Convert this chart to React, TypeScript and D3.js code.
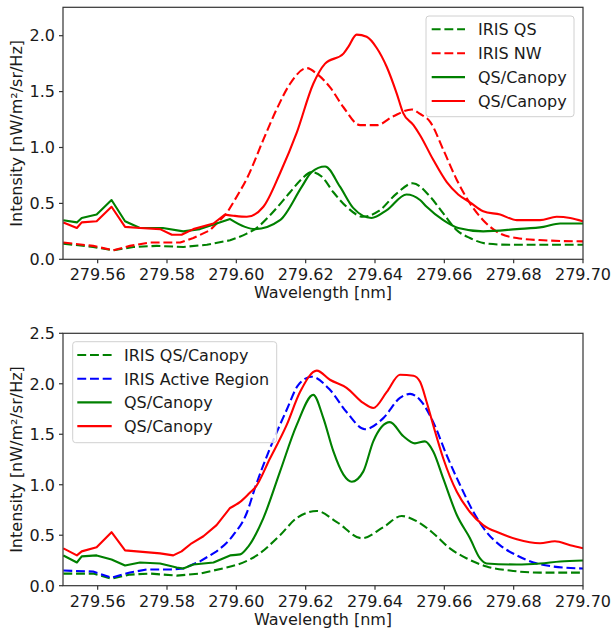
import React from 'react';
import * as d3 from 'd3';

const W = 611;
const H = 633;

const xTicks = [279.56, 279.58, 279.6, 279.62, 279.64, 279.66, 279.68, 279.7];
const topYTicks = [0, 0.5, 1.0, 1.5, 2.0];
const bottomYTicks = [0, 0.5, 1.0, 1.5, 2.0, 2.5];

// ---- Top panel data ----
const topIrisQsWl = [279.5501,279.5587,279.5645,279.5703,279.5770,279.5847,279.5915,279.5982,279.6030,279.6054,279.6102,279.6155,279.6189,279.6217,279.6246,279.6280,279.6318,279.6366,279.6410,279.6463,279.6509,279.6559,279.6597,279.6636,279.6674,279.6722,279.6789,279.7000];
const topIrisQsVal = [0.14,0.11,0.08,0.11,0.12,0.11,0.13,0.17,0.23,0.27,0.41,0.60,0.72,0.78,0.74,0.60,0.47,0.38,0.43,0.59,0.68,0.56,0.41,0.26,0.19,0.14,0.13,0.13];

const topIrisNwWl = [279.5501,279.5587,279.5645,279.5693,279.5751,279.5838,279.5876,279.5924,279.5972,279.6001,279.6030,279.6078,279.6116,279.6155,279.6203,279.6232,279.6270,279.6309,279.6357,279.6405,279.6453,279.6506,279.6530,279.6559,279.6597,279.6636,279.6674,279.6712,279.6761,279.6809,279.6886,279.7000];
const topIrisNwVal = [0.15,0.12,0.08,0.12,0.15,0.15,0.19,0.26,0.41,0.56,0.72,1.07,1.34,1.57,1.71,1.66,1.54,1.36,1.20,1.20,1.28,1.34,1.30,1.23,0.98,0.71,0.50,0.35,0.23,0.19,0.17,0.16];

const topQsGreenWl = [279.5501,279.5540,279.5554,279.5597,279.5640,279.5679,279.5722,279.5788,279.5847,279.5895,279.5943,279.5982,279.6025,279.6054,279.6126,279.6189,279.6217,279.6256,279.6299,279.6337,279.6390,279.6434,279.6491,279.6530,279.6549,279.6597,279.6640,279.6712,279.6809,279.6886,279.6934,279.7000];
const topQsGreenVal = [0.35,0.33,0.37,0.40,0.53,0.34,0.28,0.28,0.25,0.27,0.32,0.36,0.29,0.27,0.35,0.65,0.78,0.83,0.65,0.46,0.37,0.44,0.58,0.53,0.47,0.35,0.28,0.25,0.27,0.29,0.32,0.32];

const topQsRedWl = [279.5501,279.5540,279.5554,279.5597,279.5640,279.5679,279.5722,279.5780,279.5814,279.5842,279.5876,279.5934,279.5967,279.5991,279.6030,279.6078,279.6126,279.6174,279.6222,279.6256,279.6309,279.6323,279.6347,279.6376,279.6405,279.6434,279.6463,279.6481,279.6511,279.6530,279.6568,279.6607,279.6640,279.6674,279.6712,279.6761,279.6809,279.6876,279.6924,279.6963,279.7000];
const topQsRedVal = [0.33,0.28,0.33,0.34,0.47,0.29,0.28,0.27,0.22,0.22,0.27,0.32,0.40,0.39,0.38,0.47,0.77,1.13,1.57,1.75,1.84,1.90,2.01,1.99,1.89,1.72,1.48,1.31,1.20,1.11,0.89,0.69,0.58,0.51,0.43,0.40,0.35,0.35,0.38,0.37,0.34];

// ---- Bottom panel data ----
const botIrisQsWl = [279.5501,279.5587,279.5640,279.5693,279.5751,279.5828,279.5895,279.5972,279.6039,279.6059,279.6126,279.6174,279.6232,279.6290,279.6362,279.6424,279.6477,279.6520,279.6568,279.6616,279.6665,279.6722,279.6789,279.6876,279.7000];
const botIrisQsVal = [0.12,0.12,0.07,0.11,0.12,0.10,0.12,0.18,0.26,0.30,0.50,0.67,0.74,0.63,0.47,0.58,0.69,0.64,0.52,0.37,0.27,0.19,0.15,0.13,0.13];

const botIrisArWl = [279.5501,279.5587,279.5640,279.5693,279.5741,279.5809,279.5847,279.5895,279.5943,279.5991,279.6030,279.6054,279.6097,279.6145,279.6179,279.6217,279.6270,279.6318,279.6371,279.6424,279.6472,279.6501,279.6530,279.6568,279.6607,279.6645,279.6684,279.6722,279.6761,279.6809,279.6857,279.6914,279.7000];
const botIrisArVal = [0.15,0.14,0.08,0.13,0.16,0.16,0.17,0.24,0.34,0.50,0.72,0.97,1.36,1.74,1.99,2.07,1.94,1.72,1.55,1.66,1.86,1.90,1.84,1.62,1.29,1.00,0.73,0.53,0.40,0.30,0.23,0.19,0.17];

const botQsGreenWl = [279.5501,279.5540,279.5554,279.5597,279.5640,279.5679,279.5722,279.5780,279.5828,279.5847,279.5876,279.5934,279.5982,279.6011,279.6035,279.6078,279.6126,279.6174,279.6222,279.6251,279.6280,279.6309,279.6333,279.6366,279.6395,279.6443,279.6482,279.6515,279.6544,279.6568,279.6597,279.6636,279.6674,279.6703,279.6722,279.6809,279.6876,279.6934,279.7000];
const botQsGreenVal = [0.30,0.23,0.29,0.30,0.26,0.20,0.23,0.22,0.18,0.17,0.21,0.23,0.30,0.31,0.39,0.67,1.13,1.59,1.89,1.66,1.33,1.10,1.03,1.13,1.43,1.62,1.48,1.41,1.43,1.33,1.06,0.70,0.47,0.27,0.22,0.21,0.22,0.24,0.25];

const botQsRedWl = [279.5501,279.5540,279.5554,279.5597,279.5640,279.5679,279.5780,279.5818,279.5842,279.5871,279.5905,279.5943,279.5982,279.6011,279.6039,279.6054,279.6097,279.6145,279.6184,279.6232,279.6270,279.6318,279.6366,279.6395,279.6434,279.6472,279.6511,279.6530,279.6549,279.6568,279.6597,279.6636,279.6674,279.6712,279.6761,279.6809,279.6876,279.6919,279.6963,279.7000];
const botQsRedVal = [0.37,0.30,0.34,0.38,0.53,0.35,0.32,0.30,0.34,0.42,0.49,0.60,0.77,0.83,0.92,0.97,1.26,1.59,1.92,2.13,2.04,1.96,1.81,1.76,1.92,2.09,2.08,2.02,1.82,1.59,1.26,0.93,0.73,0.60,0.52,0.46,0.42,0.44,0.40,0.37];

const topLabels = ['IRIS QS', 'IRIS NW', 'QS/Canopy', 'QS/Canopy'];
const bottomLabels = ['IRIS QS/Canopy', 'IRIS Active Region', 'QS/Canopy', 'QS/Canopy'];

const GREEN = '#008000';
const RED = '#ff0000';
const BLUE = '#0000ff';
const FONT = 'DejaVu Sans, sans-serif';
const TXT = '#1a1a1a';
const DASH = '8.9,3.8';
const LW = 2.1;
// below this wavelength the measured spectra are drawn with straight segments
const SPLIT_WL = 279.599;

type Series = { wl: number[]; val: number[]; color: string; dashed: boolean; label: string };

const topSeries: Series[] = [
  { wl: topIrisQsWl, val: topIrisQsVal, color: GREEN, dashed: true, label: topLabels[0] },
  { wl: topIrisNwWl, val: topIrisNwVal, color: RED, dashed: true, label: topLabels[1] },
  { wl: topQsGreenWl, val: topQsGreenVal, color: GREEN, dashed: false, label: topLabels[2] },
  { wl: topQsRedWl, val: topQsRedVal, color: RED, dashed: false, label: topLabels[3] },
];

const bottomSeries: Series[] = [
  { wl: botIrisQsWl, val: botIrisQsVal, color: GREEN, dashed: true, label: bottomLabels[0] },
  { wl: botIrisArWl, val: botIrisArVal, color: BLUE, dashed: true, label: bottomLabels[1] },
  { wl: botQsGreenWl, val: botQsGreenVal, color: GREEN, dashed: false, label: bottomLabels[2] },
  { wl: botQsRedWl, val: botQsRedVal, color: RED, dashed: false, label: bottomLabels[3] },
];

type PanelProps = {
  id: string;
  top: number;
  bottom: number;
  yMax: number;
  yTicks: number[];
  series: Series[];
  legend: { x: number; y: number; w: number; h: number; row0: number; step: number; hx0: number; hx1: number; tx: number };
};

const LEFT = 63;
const RIGHT = 583;

function Panel({ id, top, bottom, yMax, yTicks, series, legend }: PanelProps) {
  const x = d3.scaleLinear().domain([279.55, 279.7]).range([LEFT, RIGHT]);
  const y = d3.scaleLinear().domain([0, yMax]).range([bottom, top]);
  const lin = d3
    .line<[number, number]>()
    .x((d) => x(d[0]))
    .y((d) => y(d[1]));
  const smooth = d3
    .line<[number, number]>()
    .x((d) => x(d[0]))
    .y((d) => y(d[1]))
    .curve(d3.curveMonotoneX);
  const pathFor = (s: Series) => {
    const pts = s.wl.map((w, j) => [w, s.val[j]] as [number, number]);
    const k = pts.findIndex((p) => p[0] > SPLIT_WL);
    if (k <= 0) return smooth(pts) || '';
    const a = lin(pts.slice(0, k)) || '';
    const b = smooth(pts.slice(k - 1)) || '';
    const idx = b.search(/[CL]/);
    return a + (idx >= 0 ? b.slice(idx) : '');
  };
  const midY = (top + bottom) / 2;
  return (
    <g>
      <defs>
        <clipPath id={id}>
          <rect x={LEFT} y={top} width={RIGHT - LEFT} height={bottom - top} />
        </clipPath>
      </defs>
      <g clipPath={`url(#${id})`}>
        {series.map((s, i) => (
          <path
            key={i}
            d={pathFor(s)}
            fill="none"
            stroke={s.color}
            strokeWidth={LW}
            strokeDasharray={s.dashed ? DASH : undefined}
            strokeLinejoin="round"
          />
        ))}
      </g>
      <rect x={LEFT} y={top} width={RIGHT - LEFT} height={bottom - top} fill="none" stroke="#333" strokeWidth={1.2} />
      {xTicks.map((t) => (
        <g key={t}>
          <line x1={x(t)} x2={x(t)} y1={bottom} y2={bottom + 4} stroke="#333" strokeWidth={1.2} />
          <text x={x(t)} y={bottom + 21} textAnchor="middle" fontFamily={FONT} fontSize={16} fill={TXT}>
            {t.toFixed(2)}
          </text>
        </g>
      ))}
      {yTicks.map((t) => (
        <g key={t}>
          <line x1={LEFT - 4} x2={LEFT} y1={y(t)} y2={y(t)} stroke="#333" strokeWidth={1.2} />
          <text x={55} y={y(t) + 5.8} textAnchor="end" fontFamily={FONT} fontSize={16} fill={TXT}>
            {t.toFixed(1)}
          </text>
        </g>
      ))}
      <text x={(LEFT + RIGHT) / 2} y={bottom + 39} textAnchor="middle" fontFamily={FONT} fontSize={16} fill={TXT}>
        Wavelength [nm]
      </text>
      <text
        transform={`translate(21.5,${midY}) rotate(-90)`}
        textAnchor="middle"
        fontFamily={FONT}
        fontSize={16}
        fill={TXT}
      >
        Intensity [nW/m²/sr/Hz]
      </text>
      <rect
        x={legend.x}
        y={legend.y}
        width={legend.w}
        height={legend.h}
        rx={3}
        fill="#fff"
        fillOpacity={0.8}
        stroke="#d0d0d0"
        strokeWidth={1}
      />
      {series.map((s, i) => {
        const cy = legend.row0 + i * legend.step;
        return (
          <g key={i}>
            <line
              x1={legend.hx0}
              x2={legend.hx1}
              y1={cy}
              y2={cy}
              stroke={s.color}
              strokeWidth={LW}
              strokeDasharray={s.dashed ? DASH : undefined}
            />
            <text x={legend.tx} y={cy + 5.8} fontFamily={FONT} fontSize={16} fill={TXT}>
              {s.label}
            </text>
          </g>
        );
      })}
    </g>
  );
}

export default function App() {
  return (
    <svg
      width={W}
      height={H}
      viewBox={`0 0 ${W} ${H}`}
      style={{ position: 'absolute', left: 0, top: 0, background: '#fff' }}
    >
      <rect x={0} y={0} width={W} height={H} fill="#fff" />
      <Panel
        id="clipTop"
        top={7.3}
        bottom={259.3}
        yMax={2.254}
        yTicks={topYTicks}
        series={topSeries}
        legend={{ x: 426, y: 16, w: 148, h: 100.7, row0: 29.3, step: 23.9, hx0: 431.7, hx1: 465, tx: 478 }}
      />
      <Panel
        id="clipBottom"
        top={333.3}
        bottom={585.7}
        yMax={2.5}
        yTicks={bottomYTicks}
        series={bottomSeries}
        legend={{ x: 72.7, y: 341.7, w: 204, h: 101, row0: 355, step: 23.7, hx0: 77.3, hx1: 111.7, tx: 124 }}
      />
    </svg>
  );
}
